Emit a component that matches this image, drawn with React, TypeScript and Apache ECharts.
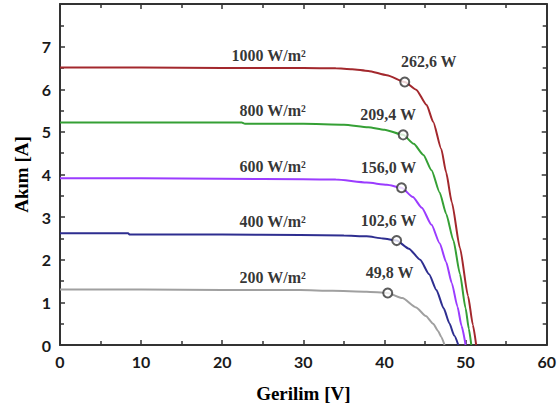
import React, { useEffect, useRef } from "react";
import * as echarts from "echarts";

// Data (V, A)
const curve1000 = [[0, 6.51], [10, 6.51], [20, 6.5], [30, 6.5], [34, 6.49], [36, 6.47], [38, 6.43], [40.3, 6.33], [42.5, 6.17], [43.9, 5.99], [45.2, 5.63], [46.0, 5.24], [47.0, 4.6], [47.6, 4.05], [48.3, 3.35], [49.3, 2.28], [50.3, 1.15], [50.9, 0.47], [51.3, 0]];
const curve800 = [[0, 5.22], [10, 5.22], [22.4, 5.22], [22.8, 5.19], [30, 5.19], [35, 5.17], [38, 5.11], [40, 5.05], [42.3, 4.93], [43.6, 4.72], [44.8, 4.46], [45.8, 4.1], [46.8, 3.58], [47.6, 3.08], [48.5, 2.45], [49.3, 1.67], [50.0, 0.86], [50.4, 0.38], [50.7, 0]];
const curve600 = [[0, 3.91], [10, 3.91], [20, 3.9], [30, 3.89], [34, 3.88], [37.8, 3.81], [40.3, 3.76], [42.1, 3.69], [43.5, 3.47], [44.6, 3.22], [45.8, 2.82], [46.8, 2.39], [47.6, 1.95], [48.3, 1.45], [49.0, 0.9], [49.5, 0.45], [50.0, 0]];
const curve400 = [[0, 2.62], [8.4, 2.62], [8.6, 2.59], [20, 2.59], [29.6, 2.58], [35, 2.57], [37.8, 2.55], [39.8, 2.5], [41.5, 2.45], [43.0, 2.26], [44.4, 2.0], [45.5, 1.66], [46.4, 1.29], [47.3, 0.86], [48.0, 0.51], [48.6, 0.22], [49.1, 0]];
const curve200 = [[0, 1.3], [10, 1.3], [20, 1.29], [29.6, 1.29], [33.6, 1.27], [37.8, 1.25], [40.4, 1.22], [42.2, 1.1], [43.9, 0.88], [45.1, 0.68], [46.0, 0.5], [46.6, 0.33], [47.0, 0.19], [47.4, 0]];

const irradianceLabels = ["1000 W/m\u00b2", "800 W/m\u00b2", "600 W/m\u00b2", "400 W/m\u00b2", "200 W/m\u00b2"];
const mppVoltage = [42.5, 42.3, 42.1, 41.5, 40.4];
const mppCurrent = [6.17, 4.93, 3.69, 2.45, 1.22];
const mppLabels = ["262,6 W", "209,4 W", "156,0 W", "102,6 W", "49,8 W"];

const xTicks = [0, 10, 20, 30, 40, 50, 60];
const yTicks = [0, 1, 2, 3, 4, 5, 6, 7];

// Styles / layout
const curves = [curve1000, curve800, curve600, curve400, curve200];
const colors = ["#a3282d", "#35a035", "#9b3cff", "#2e2e90", "#a0a0a0"];
const mppLabelDx = [24, -15, -13, -8, 2];
const IRR_LABEL_V = 30.3;
const AXIS_COLOR = "#333";
const serif = "'Liberation Serif', 'DejaVu Serif', serif";
const sans = "Lato, 'Open Sans', sans-serif";

export default function App() {
  const ref = useRef<HTMLDivElement>(null);
  useEffect(() => {
    document.body.style.margin = "0";
    const chart = echarts.init(ref.current!, null, { renderer: "svg" });
    const axisCommon = {
      type: "value" as const,
      axisLine: { show: true, onZero: false, lineStyle: { color: AXIS_COLOR, width: 2 } },
      axisTick: { show: true, inside: true, length: 5, lineStyle: { color: AXIS_COLOR, width: 1.5 } },
      minorTick: { show: true, splitNumber: 2, length: 4, lineStyle: { color: AXIS_COLOR, width: 1.5 } },
      splitLine: { show: false },
    };
    const lineSeries = curves.map((c, i) => ({
      type: "line",
      data: c,
      showSymbol: false,
      smooth: 0.2,
      smoothMonotone: "x",
      lineStyle: { color: colors[i], width: 2 },
      itemStyle: { color: colors[i] },
      z: 2,
    }));
    const irrSeries = {
      type: "scatter",
      symbolSize: 0,
      silent: true,
      data: curves.map((c, i) => ({ value: [IRR_LABEL_V, c[0][1]], name: irradianceLabels[i] })),
      label: {
        show: true,
        position: "top",
        align: "right",
        distance: 4,
        formatter: (p: any) => p.name,
        fontFamily: serif,
        fontWeight: "bold",
        fontSize: 16,
        color: "#000",
      },
      z: 4,
    };
    const mppSeries = {
      type: "scatter",
      symbol: "circle",
      symbolSize: 9,
      itemStyle: { color: "#fff", borderColor: "#333", borderWidth: 2 },
      data: mppVoltage.map((v, i) => ({
        value: [v, mppCurrent[i]],
        name: mppLabels[i],
        label: { offset: [mppLabelDx[i], 0] },
      })),
      label: {
        show: true,
        position: "top",
        distance: 7,
        formatter: (p: any) => p.name,
        fontFamily: serif,
        fontWeight: "bold",
        fontSize: 16,
        color: "#000",
      },
      z: 5,
    };
    chart.setOption({
      animation: false,
      grid: { left: 60, right: 12, top: 4, bottom: 64, containLabel: false },
      xAxis: [
        {
          ...axisCommon,
          position: "bottom",
          min: 0,
          max: 60,
          interval: 10,
          name: "Gerilim [V]",
          nameLocation: "middle",
          nameGap: 39,
          nameTextStyle: { fontFamily: serif, fontWeight: "bold", fontSize: 19, color: "#000" },
          axisLabel: {
            margin: 8,
            fontFamily: sans,
            fontWeight: "bold",
            fontSize: 16,
            color: "#1a1a1a",
            formatter: (v: number) => (xTicks.includes(v) ? String(v) : ""),
          },
        },
        {
          ...axisCommon,
          position: "top",
          min: 0,
          max: 60,
          interval: 10,
          axisLabel: { show: false },
        },
      ],
      yAxis: [
        {
          ...axisCommon,
          position: "left",
          min: 0,
          max: 8,
          interval: 1,
          name: "Ak\u0131m [A]",
          nameLocation: "middle",
          nameGap: 28,
          nameTextStyle: { fontFamily: serif, fontWeight: "bold", fontSize: 19, color: "#000" },
          axisLabel: {
            margin: 9,
            fontFamily: sans,
            fontWeight: "bold",
            fontSize: 16,
            color: "#1a1a1a",
            formatter: (v: number) => (yTicks.includes(v) ? String(v) : ""),
          },
        },
        {
          ...axisCommon,
          position: "right",
          min: 0,
          max: 8,
          interval: 1,
          axisLabel: { show: false },
        },
      ],
      series: [...lineSeries, irrSeries, mppSeries],
    });
    return () => chart.dispose();
  }, []);
  return <div ref={ref} style={{ width: 559, height: 409 }} />;
}
